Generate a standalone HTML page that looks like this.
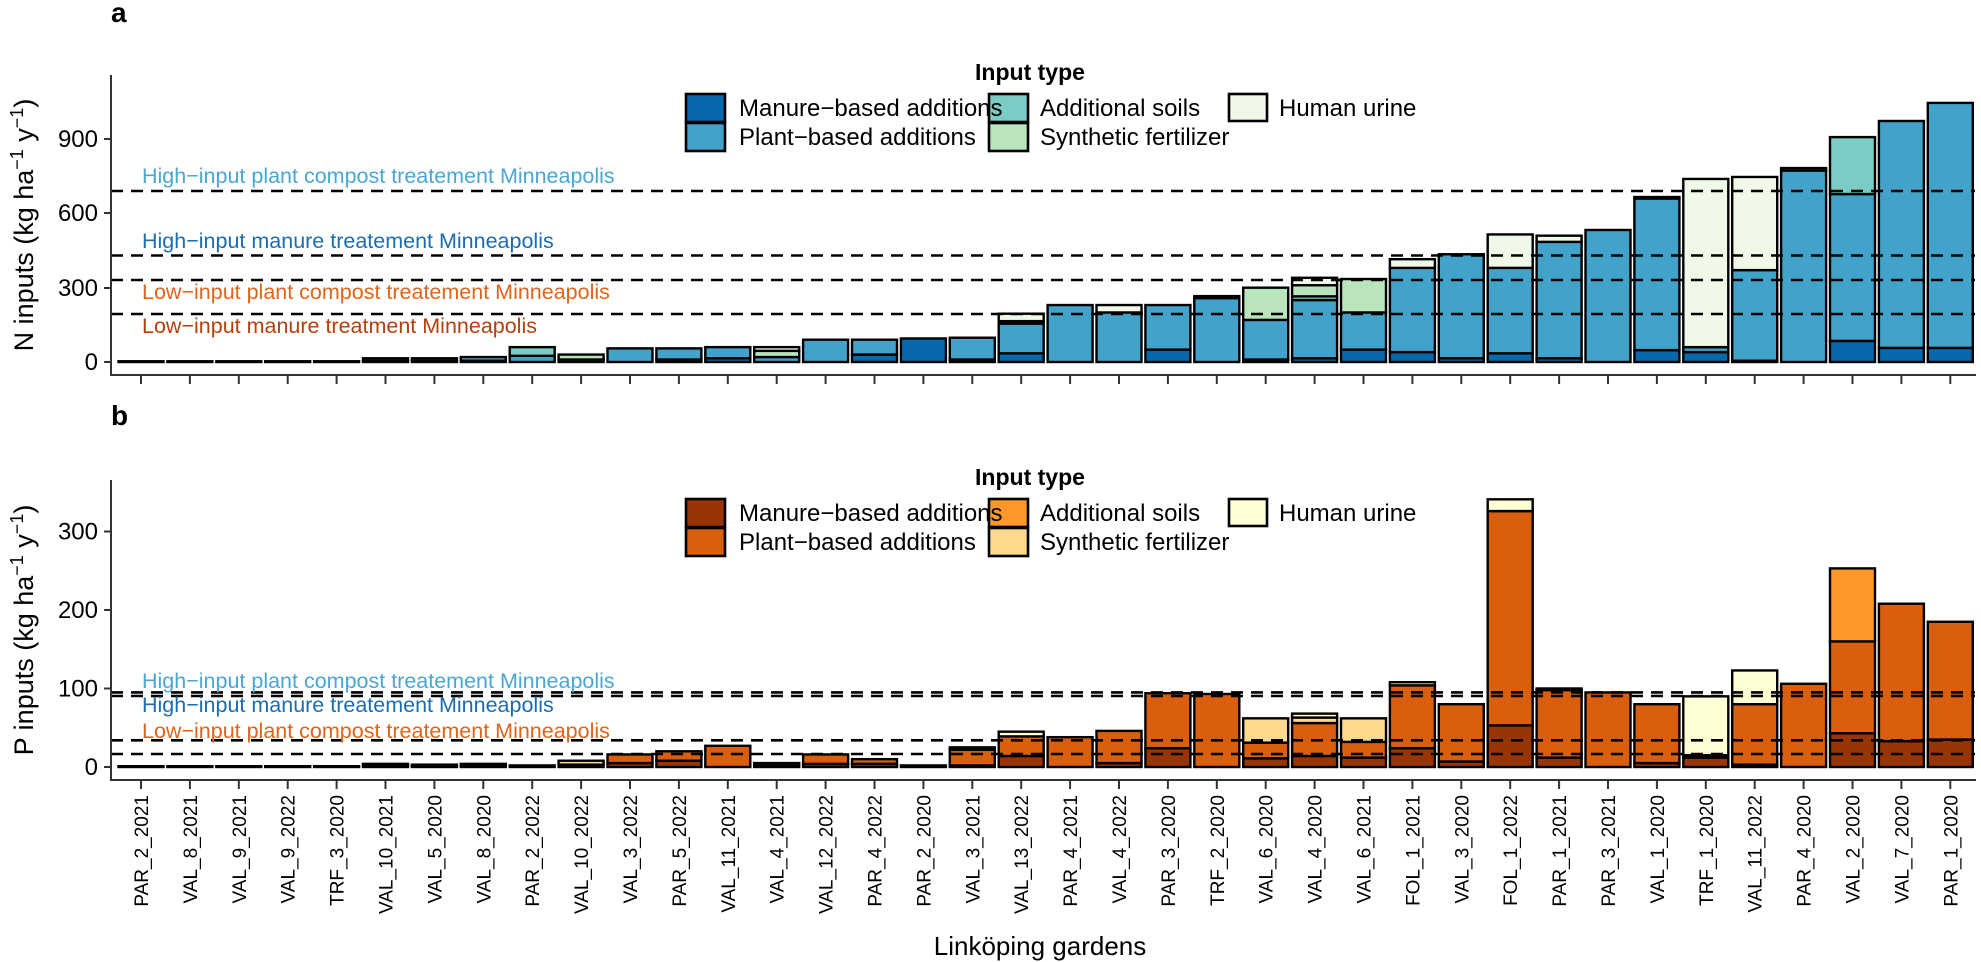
<!DOCTYPE html>
<html><head><meta charset="utf-8"><style>
body{margin:0;background:#fff}
svg{display:block;font-family:"Liberation Sans",Arial,sans-serif}
</style></head><body>
<svg id="s" width="1981" height="962" viewBox="0 0 1981 962" xmlns="http://www.w3.org/2000/svg">
<rect width="1981" height="962" fill="#fff"/>
<g id="bars"></g>
<g stroke="#000" stroke-width="2.6" stroke-dasharray="12 8" fill="none">
<line x1="111" x2="1975" y1="191" y2="191"/>
<line x1="111" x2="1975" y1="255.5" y2="255.5"/>
<line x1="111" x2="1975" y1="280" y2="280"/>
<line x1="111" x2="1975" y1="314" y2="314"/>
<line x1="111" x2="1975" y1="692.4" y2="692.4"/>
<line x1="111" x2="1975" y1="696" y2="696"/>
<line x1="111" x2="1975" y1="740.3" y2="740.3"/>
<line x1="111" x2="1975" y1="754" y2="754"/>
</g>
<g font-size="21.5">
<text x="142" y="183" fill="#4ba6d2">High−input plant compost treatement Minneapolis</text>
<text x="142" y="248" fill="#1c6cb0">High−input manure treatement Minneapolis</text>
<text x="142" y="299" fill="#e0641a">Low−input plant compost treatement Minneapolis</text>
<text x="142" y="333" fill="#b4400e">Low−input manure treatment Minneapolis</text>
<text x="142" y="688" fill="#4ba6d2">High−input plant compost treatement Minneapolis</text>
<text x="142" y="712" fill="#1c6cb0">High−input manure treatement Minneapolis</text>
<text x="142" y="738" fill="#e0641a">Low−input plant compost treatement Minneapolis</text>
</g>
<g stroke="#333" stroke-width="2" fill="none">
<line x1="111" y1="75" x2="111" y2="376"/>
<line x1="110" y1="375" x2="1976" y2="375"/>
<line x1="111" y1="480" x2="111" y2="781"/>
<line x1="110" y1="780" x2="1976" y2="780"/>
<line x1="104" x2="111" y1="362" y2="362"/><line x1="104" x2="111" y1="288" y2="288"/>
<line x1="104" x2="111" y1="213" y2="213"/><line x1="104" x2="111" y1="139" y2="139"/>
<line x1="104" x2="111" y1="767" y2="767"/><line x1="104" x2="111" y1="688.5" y2="688.5"/>
<line x1="104" x2="111" y1="610" y2="610"/><line x1="104" x2="111" y1="531.5" y2="531.5"/>
</g>
<g id="ticks" stroke="#333" stroke-width="2"></g>
<g font-size="24" text-anchor="end" fill="#000">
<text x="98" y="370">0</text><text x="98" y="296">300</text><text x="98" y="221">600</text><text x="98" y="147">900</text>
<text x="98" y="775">0</text><text x="98" y="696.5">100</text><text x="98" y="618">200</text><text x="98" y="539.5">300</text>
</g>
<text transform="translate(33,225) rotate(-90)" text-anchor="middle" font-size="27">N inputs (kg ha<tspan dy="-10" font-size="18">−1</tspan><tspan dy="10"> y</tspan><tspan dy="-10" font-size="18">−1</tspan><tspan dy="10">)</tspan></text>
<text transform="translate(33,630) rotate(-90)" text-anchor="middle" font-size="27">P inputs (kg ha<tspan dy="-10" font-size="18">−1</tspan><tspan dy="10"> y</tspan><tspan dy="-10" font-size="18">−1</tspan><tspan dy="10">)</tspan></text>
<text x="111" y="22" font-size="28" font-weight="bold">a</text>
<text x="111" y="425" font-size="28" font-weight="bold">b</text>
<g font-size="24">
<text x="1030" y="80" font-size="23" font-weight="bold" text-anchor="middle">Input type</text>
<g stroke="#000" stroke-width="2.6">
<rect x="686" y="94" width="39" height="28" fill="#0868ac"/><rect x="686" y="123" width="39" height="28" fill="#43a2ca"/>
<rect x="989" y="94" width="39" height="28" fill="#7bccc4"/><rect x="989" y="123" width="39" height="28" fill="#bae4bc"/>
<rect x="1229" y="94" width="38" height="27" fill="#f0f9e8"/>
</g>
<text x="739" y="116">Manure−based additions</text><text x="739" y="145">Plant−based additions</text>
<text x="1040" y="116">Additional soils</text><text x="1040" y="145">Synthetic fertilizer</text>
<text x="1279" y="116">Human urine</text>
<text x="1030" y="485" font-size="23" font-weight="bold" text-anchor="middle">Input type</text>
<g stroke="#000" stroke-width="2.6">
<rect x="686" y="499" width="39" height="28" fill="#993404"/><rect x="686" y="528" width="39" height="28" fill="#d95f0e"/>
<rect x="989" y="499" width="39" height="28" fill="#fe9929"/><rect x="989" y="528" width="39" height="28" fill="#fed98e"/>
<rect x="1229" y="499" width="38" height="27" fill="#ffffd4"/>
</g>
<text x="739" y="521">Manure−based additions</text><text x="739" y="550">Plant−based additions</text>
<text x="1040" y="521">Additional soils</text><text x="1040" y="550">Synthetic fertilizer</text>
<text x="1279" y="521">Human urine</text>
</g>
<g font-size="19" text-anchor="end">
<text transform="translate(148,795) rotate(-90)">PAR_2_2021</text>
<text transform="translate(196.9,795) rotate(-90)">VAL_8_2021</text>
<text transform="translate(245.8,795) rotate(-90)">VAL_9_2021</text>
<text transform="translate(294.7,795) rotate(-90)">VAL_9_2022</text>
<text transform="translate(343.6,795) rotate(-90)">TRF_3_2020</text>
<text transform="translate(392.5,795) rotate(-90)">VAL_10_2021</text>
<text transform="translate(441.4,795) rotate(-90)">VAL_5_2020</text>
<text transform="translate(490.3,795) rotate(-90)">VAL_8_2020</text>
<text transform="translate(539.2,795) rotate(-90)">PAR_2_2022</text>
<text transform="translate(588.1,795) rotate(-90)">VAL_10_2022</text>
<text transform="translate(637,795) rotate(-90)">VAL_3_2022</text>
<text transform="translate(685.9,795) rotate(-90)">PAR_5_2022</text>
<text transform="translate(734.8,795) rotate(-90)">VAL_11_2021</text>
<text transform="translate(783.7,795) rotate(-90)">VAL_4_2021</text>
<text transform="translate(832.6,795) rotate(-90)">VAL_12_2022</text>
<text transform="translate(881.5,795) rotate(-90)">PAR_4_2022</text>
<text transform="translate(930.4,795) rotate(-90)">PAR_2_2020</text>
<text transform="translate(979.3,795) rotate(-90)">VAL_3_2021</text>
<text transform="translate(1028.2,795) rotate(-90)">VAL_13_2022</text>
<text transform="translate(1077.1,795) rotate(-90)">PAR_4_2021</text>
<text transform="translate(1126,795) rotate(-90)">VAL_4_2022</text>
<text transform="translate(1174.9,795) rotate(-90)">PAR_3_2020</text>
<text transform="translate(1223.8,795) rotate(-90)">TRF_2_2020</text>
<text transform="translate(1272.7,795) rotate(-90)">VAL_6_2020</text>
<text transform="translate(1321.6,795) rotate(-90)">VAL_4_2020</text>
<text transform="translate(1370.5,795) rotate(-90)">VAL_6_2021</text>
<text transform="translate(1419.4,795) rotate(-90)">FOL_1_2021</text>
<text transform="translate(1468.3,795) rotate(-90)">VAL_3_2020</text>
<text transform="translate(1517.2,795) rotate(-90)">FOL_1_2022</text>
<text transform="translate(1566.1,795) rotate(-90)">PAR_1_2021</text>
<text transform="translate(1615,795) rotate(-90)">PAR_3_2021</text>
<text transform="translate(1663.9,795) rotate(-90)">VAL_1_2020</text>
<text transform="translate(1712.8,795) rotate(-90)">TRF_1_2020</text>
<text transform="translate(1761.7,795) rotate(-90)">VAL_11_2022</text>
<text transform="translate(1810.6,795) rotate(-90)">PAR_4_2020</text>
<text transform="translate(1859.5,795) rotate(-90)">VAL_2_2020</text>
<text transform="translate(1908.4,795) rotate(-90)">VAL_7_2020</text>
<text transform="translate(1957.3,795) rotate(-90)">PAR_1_2020</text>
</g>
<text x="1040" y="955" font-size="26" text-anchor="middle">Linköping gardens</text>
</svg>
<script>
var N=[[0,3,0,0,0],[0,3,0,0,0],[0,3,0,0,0],[0,3,0,0,0],[0,3,0,0,0],[5,10,0,0,0],[5,10,0,0,0],[5,15,0,0,0],[0,25,35,0,0],[0,0,10,20,0],
[0,55,0,0,0],[10,45,0,0,0],[15,45,0,0,0],[0,20,0,25,15],[0,90,0,0,0],[30,60,0,0,0],[95,0,0,0,0],[10,88,0,0,0],[35,120,0,10,30],[0,230,0,0,0],
[0,200,0,0,30],[50,180,0,0,0],[0,258,0,0,8],[10,160,0,130,0],[15,235,15,45,30],[50,150,0,135,0],[40,340,0,0,35],[15,420,0,0,0],[35,345,0,0,135],[15,470,0,0,25],
[0,533,0,0,0],[48,612,0,0,6],[40,20,0,0,679],[5,366,0,0,376],[0,773,10,0,0],[85,593,230,0,0],[57,916,0,0,0],[57,989,0,0,0]];
var P=[[0,1,0,0,0],[0,1,0,0,0],[0,1,0,0,0],[0,1,0,0,0],[0,1,0,0,0],[2,2,0,0,0],[1,2,0,0,0],[2,2,0,0,0],[0,2,0,0,0],[0,3,0,5,0],
[5,11,0,0,0],[8,12,0,0,0],[0,27,0,0,0],[2,3,0,0,0],[4,12,0,0,0],[4,6,0,0,0],[0,2,0,0,0],[2,20,0,3,0],[14,25,0,0,6],[0,38,0,0,0],
[5,41,0,0,0],[24,70,0,0,0],[0,93,0,0,0],[11,20,0,31,0],[14,42,0,7,5],[12,20,0,30,0],[24,80,0,0,4],[7,73,0,0,0],[53,273,0,0,15],[12,86,0,0,2],
[0,95,0,0,0],[5,75,0,0,0],[12,3,0,0,75],[3,77,0,0,43],[0,106,0,0,0],[43,117,93,0,0],[33,175,0,0,0],[35,150,0,0,0]];
var cN=["#0868ac","#43a2ca","#7bccc4","#bae4bc","#f0f9e8"],cP=["#993404","#d95f0e","#fe9929","#fed98e","#ffffd4"];
var ns="http://www.w3.org/2000/svg",g=document.getElementById("bars"),t=document.getElementById("ticks");
function draw(D,C,y0,sc){for(var i=0;i<D.length;i++){var cx=141+i*48.9,y=y0;for(var k=0;k<5;k++){var v=D[i][k];if(!v)continue;var h=v*sc;var r=document.createElementNS(ns,"rect");
r.setAttribute("x",cx-22.5);r.setAttribute("y",y-h);r.setAttribute("width",45);r.setAttribute("height",h);r.setAttribute("fill",C[k]);r.setAttribute("stroke","#000");r.setAttribute("stroke-width",2.4);g.appendChild(r);y-=h;}}}
draw(N,cN,362,0.2477);draw(P,cP,767,0.785);
for(var i=0;i<38;i++){var x=141+i*48.9;[375,780].forEach(function(y){var l=document.createElementNS(ns,"line");l.setAttribute("x1",x);l.setAttribute("x2",x);l.setAttribute("y1",y);l.setAttribute("y2",y+9);t.appendChild(l);});}
</script>
</body></html>
